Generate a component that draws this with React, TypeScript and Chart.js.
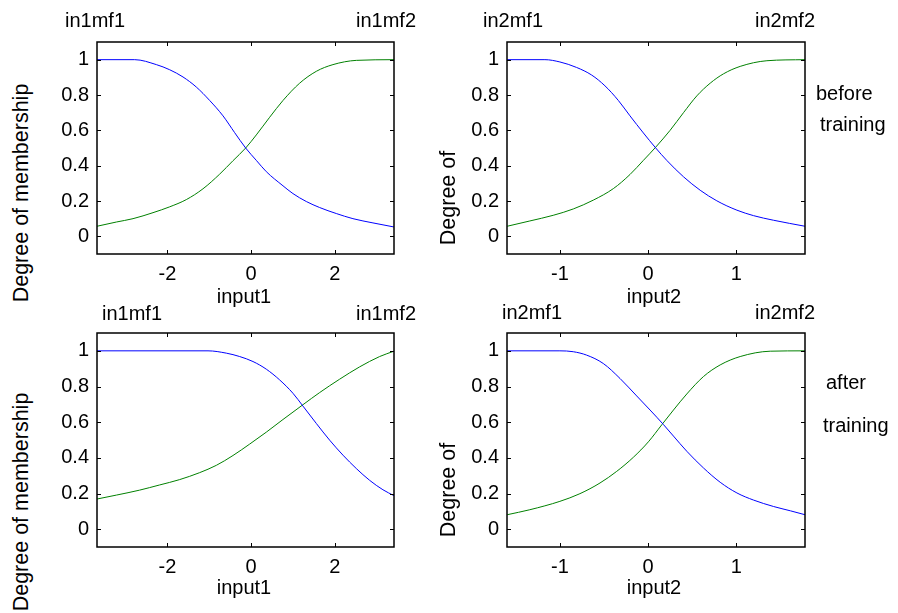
import React, { useEffect, useRef } from "react";
import { Chart, registerables } from "chart.js";

Chart.register(...registerables);

const FONT = '"Liberation Sans", Arial, Helvetica, sans-serif';

// ---------- data ----------
const yTickValues = [0, 0.2, 0.4, 0.6, 0.8, 1];
const input1TickValues = [-2, 0, 2];
const input2TickValues = [-1, 0, 1];
const input1Range = [-3.68, 3.41];
const input2Range = [-1.6, 1.78];
const yRange = [-0.1, 1.1];

// before training, input1
const before1Mf1X = [-3.68, -2.78, -2.263, -1.945, -1.627, -1.309, -0.99, -0.672, -0.394, -0.131, 0.123, 0.362, 0.76, 0.998, 1.317, 1.635, 2.033, 2.43, 2.908, 3.409];
const before1Mf1Y = [1, 1, 0.972, 0.943, 0.902, 0.845, 0.769, 0.682, 0.587, 0.5, 0.43, 0.366, 0.286, 0.242, 0.197, 0.163, 0.129, 0.1, 0.076, 0.053];
const before1Mf2X = [-3.68, -3.218, -2.82, -2.343, -1.945, -1.547, -1.15, -0.752, -0.434, -0.131, 0.123, 0.442, 0.76, 1.158, 1.555, 1.953, 2.51, 3.409];
const before1Mf2Y = [0.057, 0.081, 0.1, 0.134, 0.167, 0.208, 0.269, 0.352, 0.428, 0.5, 0.574, 0.674, 0.769, 0.867, 0.934, 0.972, 0.996, 1];

// before training, input2
const before2Mf1X = [-1.598, -1.17, -1.0, -0.811, -0.64, -0.489, -0.337, -0.205, -0.053, 0.087, 0.212, 0.402, 0.591, 0.78, 1.008, 1.197, 1.424, 1.78];
const before2Mf1Y = [1, 1, 0.987, 0.956, 0.913, 0.852, 0.769, 0.682, 0.585, 0.5, 0.43, 0.337, 0.261, 0.201, 0.148, 0.117, 0.091, 0.057];
const before2Mf2X = [-1.598, -1.341, -1.076, -0.848, -0.621, -0.394, -0.205, -0.053, 0.087, 0.25, 0.402, 0.553, 0.705, 0.856, 1.045, 1.348, 1.78];
const before2Mf2Y = [0.057, 0.087, 0.119, 0.155, 0.205, 0.27, 0.35, 0.43, 0.505, 0.6, 0.7, 0.795, 0.867, 0.92, 0.962, 0.994, 1];

// after training, input1
const after1Mf1X = [-3.68, -1.03, -0.593, -0.274, 0.044, 0.362, 0.68, 0.998, 1.237, 1.555, 1.874, 2.192, 2.51, 2.828, 3.146, 3.409];
const after1Mf1Y = [1, 1, 0.987, 0.968, 0.94, 0.897, 0.837, 0.762, 0.69, 0.593, 0.499, 0.415, 0.34, 0.274, 0.221, 0.188];
const after1Mf2X = [-3.68, -3.218, -2.661, -2.184, -1.706, -1.229, -0.831, -0.434, -0.036, 0.362, 0.76, 1.237, 1.635, 2.112, 2.589, 3.067, 3.409];
const after1Mf2Y = [0.169, 0.191, 0.219, 0.248, 0.278, 0.317, 0.358, 0.413, 0.477, 0.544, 0.615, 0.698, 0.766, 0.841, 0.91, 0.968, 0.998];

// after training, input2
const after2Mf1X = [-1.598, -1.0, -0.848, -0.697, -0.508, -0.318, -0.129, 0.023, 0.174, 0.288, 0.439, 0.629, 0.818, 1.008, 1.197, 1.424, 1.614, 1.78];
const after2Mf1Y = [1, 1, 0.995, 0.976, 0.929, 0.845, 0.747, 0.668, 0.587, 0.522, 0.437, 0.343, 0.263, 0.203, 0.163, 0.127, 0.103, 0.081];
const after2Mf2X = [-1.598, -1.341, -1.0, -0.773, -0.545, -0.356, -0.167, 0.004, 0.155, 0.288, 0.439, 0.629, 0.818, 1.045, 1.386, 1.78];
const after2Mf2Y = [0.081, 0.109, 0.156, 0.199, 0.259, 0.324, 0.403, 0.49, 0.585, 0.668, 0.758, 0.856, 0.921, 0.968, 0.998, 1];

// ---------- styles / layout ----------
const MF1_COLOR = "#0000ff";
const MF2_COLOR = "#008000";

type Curve = { xs: number[]; ys: number[]; color: string };
type Panel = {
  left: number; top: number; right: number; bottom: number;
  xRange: number[]; xTicks: number[]; curves: Curve[];
};

const panels: Panel[] = [
  { left: 97, top: 42, right: 394, bottom: 254, xRange: input1Range, xTicks: input1TickValues,
    curves: [{ xs: before1Mf1X, ys: before1Mf1Y, color: MF1_COLOR }, { xs: before1Mf2X, ys: before1Mf2Y, color: MF2_COLOR }] },
  { left: 507, top: 42, right: 805, bottom: 254, xRange: input2Range, xTicks: input2TickValues,
    curves: [{ xs: before2Mf1X, ys: before2Mf1Y, color: MF1_COLOR }, { xs: before2Mf2X, ys: before2Mf2Y, color: MF2_COLOR }] },
  { left: 97, top: 333, right: 394, bottom: 547, xRange: input1Range, xTicks: input1TickValues,
    curves: [{ xs: after1Mf1X, ys: after1Mf1Y, color: MF1_COLOR }, { xs: after1Mf2X, ys: after1Mf2Y, color: MF2_COLOR }] },
  { left: 507, top: 333, right: 805, bottom: 547, xRange: input2Range, xTicks: input2TickValues,
    curves: [{ xs: after2Mf1X, ys: after2Mf1Y, color: MF1_COLOR }, { xs: after2Mf2X, ys: after2Mf2Y, color: MF2_COLOR }] },
];

type Label = { text: string; x: number; y: number; center?: boolean };
// x = left (or centre), y = baseline
const labels: Label[] = [
  { text: "in1mf1", x: 65, y: 27 },
  { text: "in1mf2", x: 356, y: 27 },
  { text: "in2mf1", x: 483, y: 27 },
  { text: "in2mf2", x: 755, y: 27 },
  { text: "before", x: 816, y: 100 },
  { text: "training", x: 820, y: 131 },
  { text: "input1", x: 244, y: 303, center: true },
  { text: "input2", x: 654, y: 303, center: true },
  { text: "in1mf1", x: 102, y: 320 },
  { text: "in1mf2", x: 356, y: 320 },
  { text: "in2mf1", x: 502, y: 319 },
  { text: "in2mf2", x: 755, y: 319 },
  { text: "after", x: 826, y: 389 },
  { text: "training", x: 823, y: 432 },
  { text: "input1", x: 244, y: 594, center: true },
  { text: "input2", x: 654, y: 594, center: true },
];

type VLabel = { text: string; cx: number; cy: number };
const vLabels: VLabel[] = [
  { text: "Degree of membership", cx: 21.6, cy: 193 },
  { text: "Degree of", cx: 448.5, cy: 198.3 },
  { text: "Degree of membership", cx: 21.6, cy: 501.5 },
  { text: "Degree of", cx: 448.5, cy: 490 },
];

const Y_AXIS_W = 60;
const X_AXIS_H = 40;
const PAD_T = 25;
const PAD_R = 25;

const framePlugin = {
  id: "matlabFrame",
  afterDraw(chart: any) {
    const { ctx, chartArea: a, scales } = chart;
    ctx.save();
    ctx.strokeStyle = "#000";
    ctx.lineWidth = 1.5;
    ctx.strokeRect(a.left, a.top, a.right - a.left, a.bottom - a.top);
    ctx.lineWidth = 1;
    const tl = 4;
    ctx.beginPath();
    scales.x.ticks.forEach((t: any) => {
      const px = Math.round(scales.x.getPixelForValue(t.value)) + 0.5;
      ctx.moveTo(px, a.bottom);
      ctx.lineTo(px, a.bottom - tl);
      ctx.moveTo(px, a.top);
      ctx.lineTo(px, a.top + tl);
    });
    scales.y.ticks.forEach((t: any) => {
      const py = Math.round(scales.y.getPixelForValue(t.value)) + 0.5;
      ctx.moveTo(a.left, py);
      ctx.lineTo(a.left + tl, py);
      ctx.moveTo(a.right, py);
      ctx.lineTo(a.right - tl, py);
    });
    ctx.stroke();
    ctx.restore();
  },
};

function SubPlot({ panel }: { panel: Panel }) {
  const ref = useRef<HTMLCanvasElement | null>(null);
  const w = panel.right - panel.left + Y_AXIS_W + PAD_R;
  const h = panel.bottom - panel.top + PAD_T + X_AXIS_H;

  useEffect(() => {
    if (!ref.current) return;
    const tickFont = { family: FONT, size: 20 };
    const chart = new Chart(ref.current, {
      type: "line",
      data: {
        datasets: panel.curves.map((c) => ({
          data: c.xs.map((x, i) => ({ x, y: c.ys[i] })),
          borderColor: c.color,
          borderWidth: 1,
          pointRadius: 0,
          fill: false,
          cubicInterpolationMode: "monotone" as const,
        })),
      },
      options: {
        animation: false,
        responsive: false,
        maintainAspectRatio: false,
        events: [],
        layout: { padding: { top: PAD_T, right: PAD_R, left: 0, bottom: 0 } },
        plugins: { legend: { display: false }, tooltip: { enabled: false } },
        scales: {
          x: {
            type: "linear",
            min: panel.xRange[0],
            max: panel.xRange[1],
            grid: { display: false, drawTicks: false },
            border: { display: false },
            afterBuildTicks: (s: any) => {
              s.ticks = panel.xTicks.map((v) => ({ value: v }));
            },
            afterFit: (s: any) => {
              s.height = X_AXIS_H;
            },
            ticks: {
              font: tickFont,
              color: "#000",
              padding: 8,
              maxRotation: 0,
              autoSkip: false,
              callback: (v: any) => String(v),
            },
          },
          y: {
            type: "linear",
            min: yRange[0],
            max: yRange[1],
            grid: { display: false, drawTicks: false },
            border: { display: false },
            afterBuildTicks: (s: any) => {
              s.ticks = yTickValues.map((v) => ({ value: v }));
            },
            afterFit: (s: any) => {
              s.width = Y_AXIS_W;
            },
            ticks: {
              font: tickFont,
              color: "#000",
              padding: 8,
              autoSkip: false,
              callback: (v: any) => String(v),
            },
          },
        },
      },
      plugins: [framePlugin],
    } as any);
    return () => chart.destroy();
  }, [panel]);

  return (
    <canvas
      ref={ref}
      width={w}
      height={h}
      style={{
        position: "absolute",
        left: panel.left - Y_AXIS_W,
        top: panel.top - PAD_T,
        width: w,
        height: h,
      }}
    />
  );
}

export default function App() {
  return (
    <div
      style={{
        position: "absolute",
        left: 0,
        top: 0,
        width: 898,
        height: 613,
        background: "#fff",
        overflow: "hidden",
        fontFamily: FONT,
        color: "#000",
      }}
    >
      {panels.map((p, i) => (
        <SubPlot key={i} panel={p} />
      ))}
      {labels.map((l, i) => (
        <div
          key={"l" + i}
          style={{
            position: "absolute",
            left: l.x,
            top: l.y - 16.9,
            fontSize: 20,
            lineHeight: "20px",
            whiteSpace: "nowrap",
            transform: l.center ? "translateX(-50%)" : undefined,
          }}
        >
          {l.text}
        </div>
      ))}
      {vLabels.map((l, i) => (
        <div
          key={"v" + i}
          style={{
            position: "absolute",
            left: l.cx,
            top: l.cy,
            fontSize: 21.5,
            lineHeight: "21.5px",
            whiteSpace: "nowrap",
            transform: "translate(-50%, -50%) rotate(-90deg)",
          }}
        >
          {l.text}
        </div>
      ))}
    </div>
  );
}
